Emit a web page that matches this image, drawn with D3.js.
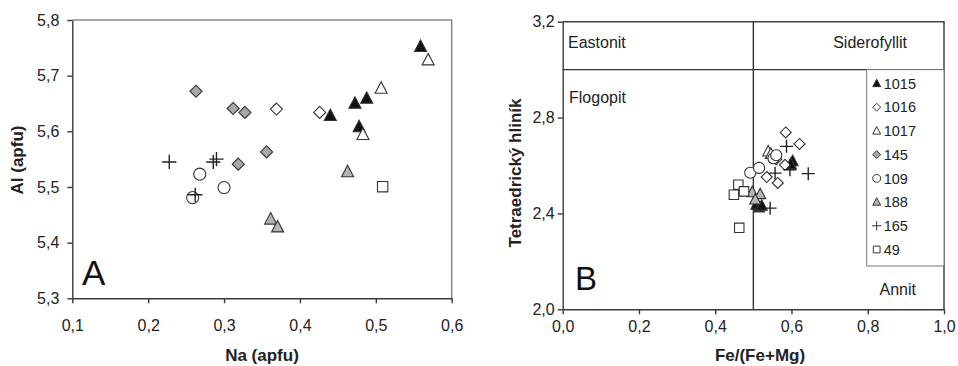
<!DOCTYPE html>
<html>
<head>
<meta charset="utf-8">
<script src="https://cdn.jsdelivr.net/npm/d3@7"></script>
<style>
    html, body { margin: 0; padding: 0; background: #fff; }
    svg { display: block; font-family: 'Liberation Sans', Arial, sans-serif; }
</style>
</head>
<body>
<svg id="chart" width="958" height="366"></svg>
<script>
// Series (sample numbers) and their markers
const seriesNames = ['1015', '1016', '1017', '145', '109', '188', '165', '49'];
const seriesShapes = ['triangle', 'diamond', 'triangle', 'diamond', 'circle', 'triangle', 'plus', 'square'];
const seriesFills = ['#111', '#fff', '#fff', '#a8a8a8', '#fff', '#b4b4b4', 'none', '#fff'];

// Panel A: Na (apfu) vs Al (apfu)
const naTicks = [0.1, 0.2, 0.3, 0.4, 0.5, 0.6];
const alTicks = [5.3, 5.4, 5.5, 5.6, 5.7, 5.8];
const panelA = {
    '1015': [[0.559, 5.752], [0.4725, 5.650], [0.488, 5.659], [0.440, 5.628], [0.478, 5.608]],
    '1016': [[0.369, 5.640], [0.426, 5.634]],
    '1017': [[0.569, 5.728], [0.507, 5.677], [0.483, 5.594]],
    '145':  [[0.263, 5.672], [0.312, 5.641], [0.3275, 5.634], [0.356, 5.563], [0.3187, 5.541]],
    '109':  [[0.268, 5.523], [0.300, 5.499], [0.2586, 5.481]],
    '188':  [[0.4628, 5.527], [0.3614, 5.442], [0.3706, 5.428]],
    '165':  [[0.2278, 5.545], [0.2858, 5.545], [0.290, 5.550], [0.262, 5.486]],
    '49':   [[0.509, 5.5005]]
};

// Panel B: Fe/(Fe+Mg) vs tetrahedral Al
const feTicks = [0.0, 0.2, 0.4, 0.6, 0.8, 1.0];
const alivTicks = [2.0, 2.4, 2.8, 3.2];
const panelB = {
    '1015': [[0.603, 2.618], [0.598, 2.606], [0.508, 2.436], [0.515, 2.425], [0.522, 2.432]],
    '1016': [[0.585, 2.738], [0.621, 2.690], [0.583, 2.603], [0.535, 2.552], [0.564, 2.527], [0.560, 2.626]],
    '1017': [[0.539, 2.658], [0.546, 2.648]],
    '145':  [],
    '109':  [[0.492, 2.570], [0.515, 2.590], [0.553, 2.630], [0.560, 2.643]],
    '188':  [[0.497, 2.488], [0.518, 2.480], [0.505, 2.458]],
    '165':  [[0.587, 2.680], [0.644, 2.566], [0.544, 2.422], [0.557, 2.568], [0.596, 2.582]],
    '49':   [[0.4606, 2.520], [0.449, 2.478], [0.4755, 2.492], [0.463, 2.340]]
};

// Classification fields in panel B
const fieldNames = ['Eastonit', 'Siderofyllit', 'Flogopit', 'Annit'];
const fieldSplitFe = 0.5;
const fieldSplitAl = 3.0;

const svg = d3.select('#chart');
const comma = d => d3.format('.1f')(d).replace('.', ',');
const textColor = '#222';

function markerPath(shape, w) {
    const h = w / 2;
    switch (shape) {
        case 'triangle':
            return `M0,${-w * 0.58}L${h * 1.05},${w * 0.42}L${-h * 1.05},${w * 0.42}Z`;
        case 'diamond':
            return `M0,${-h * 1.05}L${h * 1.05},0L0,${h * 1.05}L${-h * 1.05},0Z`;
        case 'square':
            return `M${-h * 0.9},${-h * 0.9}H${h * 0.9}V${h * 0.9}H${-h * 0.9}Z`;
        case 'plus':
            return `M${-w * 0.62},0H${w * 0.62}M0,${-w * 0.62}V${w * 0.62}`;
        case 'circle':
            return d3.arc()({ innerRadius: 0, outerRadius: h * 1.05, startAngle: 0, endAngle: 2 * Math.PI });
    }
}

function drawSeries(g, data, x, y, w) {
    seriesNames.forEach((name, i) => {
        g.append('g').selectAll('path')
            .data(data[name])
            .join('path')
            .attr('transform', d => `translate(${x(d[0])},${y(d[1])})`)
            .attr('d', markerPath(seriesShapes[i], w))
            .attr('fill', seriesFills[i])
            .attr('stroke', seriesShapes[i] === 'plus' ? '#222' : '#333')
            .attr('stroke-width', seriesShapes[i] === 'plus' ? 1.4 : 1.1);
    });
}

function styleAxis(ax) {
    ax.selectAll('path, line').attr('stroke', '#3a3a3a').attr('stroke-width', 1.4);
    ax.selectAll('text').attr('fill', textColor).attr('font-size', '16px')
        .attr('font-family', "'Liberation Sans', Arial, sans-serif");
}

// ---------- Panel A ----------
const xA = d3.scaleLinear().domain([0.1, 0.6]).range([72.3, 451.7]);
const yA = d3.scaleLinear().domain([5.3, 5.8]).range([298.3, 20]);
const gA = svg.append('g');

// grey frame top/right
gA.append('path')
    .attr('d', `M${xA(0.1)},${yA(5.8)}H${xA(0.6)}V${yA(5.3)}`)
    .attr('fill', 'none').attr('stroke', '#8a8a8a').attr('stroke-width', 1.5);

const axA = gA.append('g').attr('transform', `translate(0,${yA(5.3)})`)
    .call(d3.axisBottom(xA).tickValues(naTicks).tickFormat(comma).tickSize(5).tickSizeOuter(0).tickPadding(16));
styleAxis(axA);
const ayA = gA.append('g').attr('transform', `translate(${xA(0.1)},0)`)
    .call(d3.axisLeft(yA).tickValues(alTicks).tickFormat(comma).tickSize(5).tickSizeOuter(0).tickPadding(8));
styleAxis(ayA);

drawSeries(gA, panelA, xA, yA, 11.5);

gA.append('text').attr('x', 262).attr('y', 361)
    .attr('text-anchor', 'middle').attr('font-size', '17px').attr('font-weight', 'bold')
    .attr('fill', textColor).text('Na (apfu)');
gA.append('text').attr('transform', 'translate(23,160) rotate(-90)')
    .attr('text-anchor', 'middle').attr('font-size', '17px').attr('font-weight', 'bold')
    .attr('fill', textColor).text('Al (apfu)');
gA.append('text').attr('x', 82).attr('y', 285)
    .attr('font-size', '35px').attr('fill', '#111').text('A');

// ---------- Panel B ----------
const xB = d3.scaleLinear().domain([0, 1]).range([562.7, 944]);
const yB = d3.scaleLinear().domain([2.0, 3.2]).range([309.3, 21.7]);
const gB = svg.append('g');

gB.append('path')
    .attr('d', `M${xB(0)},${yB(3.2)}H${xB(1)}V${yB(2.0)}`)
    .attr('fill', 'none').attr('stroke', '#444').attr('stroke-width', 1.5);
gB.append('line')
    .attr('x1', xB(0)).attr('x2', xB(1)).attr('y1', yB(fieldSplitAl)).attr('y2', yB(fieldSplitAl))
    .attr('stroke', '#333').attr('stroke-width', 1.4);
gB.append('line')
    .attr('x1', xB(fieldSplitFe)).attr('x2', xB(fieldSplitFe)).attr('y1', yB(3.2)).attr('y2', yB(2.0))
    .attr('stroke', '#333').attr('stroke-width', 1.4);

const axB = gB.append('g').attr('transform', `translate(0,${yB(2.0)})`)
    .call(d3.axisBottom(xB).tickValues(feTicks).tickFormat(comma).tickSize(5).tickSizeOuter(0).tickPadding(6));
styleAxis(axB);
const ayB = gB.append('g').attr('transform', `translate(${xB(0)},0)`)
    .call(d3.axisLeft(yB).tickValues(alivTicks).tickFormat(comma).tickSize(5).tickSizeOuter(0).tickPadding(3));
styleAxis(ayB);

// field labels
const fieldPos = [
    { x: 568, y: 48, anchor: 'start' },
    { x: 907, y: 48, anchor: 'end' },
    { x: 569, y: 103, anchor: 'start' },
    { x: 916, y: 295, anchor: 'end' }
];
fieldNames.forEach((n, i) => {
    gB.append('text').attr('x', fieldPos[i].x).attr('y', fieldPos[i].y)
        .attr('text-anchor', fieldPos[i].anchor).attr('font-size', '16px')
        .attr('fill', textColor).text(n);
});

// legend
const legX = 866.7, legTop = yB(fieldSplitAl), legBottom = 266;
gB.append('rect').attr('x', legX).attr('y', legTop)
    .attr('width', xB(1) - legX).attr('height', legBottom - legTop)
    .attr('fill', '#fff').attr('stroke', '#777').attr('stroke-width', 1);
const legY = d3.scalePoint().domain(seriesNames).range([83.5, 249.5]);
seriesNames.forEach((name, i) => {
    gB.append('path')
        .attr('transform', `translate(${legX + 10},${legY(name)})`)
        .attr('d', markerPath(seriesShapes[i], 7.5))
        .attr('fill', seriesFills[i])
        .attr('stroke', '#333').attr('stroke-width', 1);
    gB.append('text').attr('x', legX + 17).attr('y', legY(name)).attr('dy', '0.36em')
        .attr('font-size', '14.5px').attr('fill', textColor).text(name);
});

drawSeries(gB, panelB, xB, yB, 10.5);

gB.append('text').attr('x', 760).attr('y', 361)
    .attr('text-anchor', 'middle').attr('font-size', '17px').attr('font-weight', 'bold')
    .attr('fill', textColor).text('Fe/(Fe+Mg)');
gB.append('text').attr('transform', 'translate(521,173) rotate(-90)')
    .attr('text-anchor', 'middle').attr('font-size', '17px').attr('font-weight', 'bold')
    .attr('fill', textColor).text('Tetraedrický hliník');
gB.append('text').attr('x', 575).attr('y', 290)
    .attr('font-size', '33px').attr('fill', '#111').text('B');
</script>
</body>
</html>
